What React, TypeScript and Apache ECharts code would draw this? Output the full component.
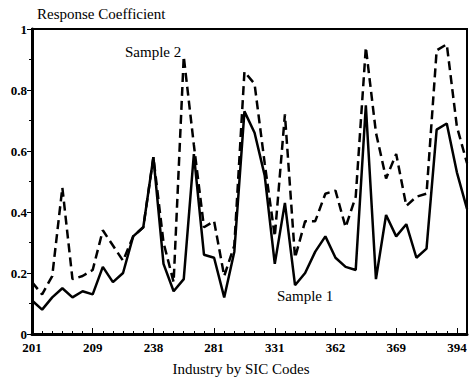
import React, { useEffect, useRef } from "react";
import * as echarts from "echarts";

const sicLabels = ["201", "209", "238", "281", "331", "362", "369", "394"];
const pointsPerLabel = 6;

const sample1 = [
  0.11, 0.08, 0.12, 0.15, 0.12, 0.14, 0.13, 0.22, 0.17, 0.2,
  0.32, 0.35, 0.58, 0.23, 0.14, 0.18, 0.59, 0.26, 0.25, 0.12,
  0.27, 0.73, 0.66, 0.52, 0.23, 0.43, 0.16, 0.2, 0.27, 0.32,
  0.25, 0.22, 0.21, 0.75, 0.18, 0.39, 0.32, 0.36, 0.25, 0.28,
  0.67, 0.69, 0.53, 0.41,
];

const sample2 = [
  0.17, 0.13, 0.19, 0.48, 0.18, 0.19, 0.21, 0.34, 0.29, 0.24,
  0.32, 0.35, 0.58, 0.3, 0.17, 0.91, 0.62, 0.35, 0.37, 0.19,
  0.29, 0.86, 0.82, 0.56, 0.32, 0.72, 0.25, 0.37, 0.37, 0.46,
  0.47, 0.35, 0.45, 0.94, 0.66, 0.51, 0.59, 0.42, 0.45, 0.46,
  0.93, 0.95, 0.68, 0.56,
];

const FONT = "'Liberation Serif', 'Times New Roman', serif";

export default function App() {
  const ref = useRef<HTMLDivElement>(null);
  useEffect(() => {
    if (!ref.current) return;
    const chart = echarts.init(ref.current, undefined, { renderer: "svg" });
    const n = sample1.length;
    chart.setOption({
      animation: false,
      backgroundColor: "#ffffff",
      grid: {
        left: 32,
        top: 29,
        right: 6,
        bottom: 47,
        show: true,
        borderColor: "#000",
        borderWidth: 2,
      },
      graphic: [
        {
          type: "text",
          x: 37,
          y: 14,
          style: { text: "Response Coefficient", font: `15px ${FONT}`, fill: "#000", verticalAlign: "middle" },
        },
        {
          type: "text",
          x: 125,
          y: 52,
          style: { text: "Sample 2", font: `15px ${FONT}`, fill: "#000", verticalAlign: "middle" },
        },
        {
          type: "text",
          x: 277,
          y: 296,
          style: { text: "Sample 1", font: `15px ${FONT}`, fill: "#000", verticalAlign: "middle" },
        },
        {
          type: "text",
          x: 241,
          y: 369,
          style: { text: "Industry by SIC Codes", font: `15px ${FONT}`, fill: "#000", align: "center", verticalAlign: "middle" },
        },
      ],
      xAxis: {
        type: "value",
        min: 0,
        max: n - 1,
        interval: pointsPerLabel,
        axisLine: { show: true, lineStyle: { color: "#000", width: 3 } },
        axisTick: { show: true, inside: true, length: 6, lineStyle: { color: "#000", width: 1 } },
        minorTick: { show: true, splitNumber: pointsPerLabel, length: 3, lineStyle: { color: "#000", width: 1 } },
        splitLine: { show: false },
        axisLabel: {
          color: "#000",
          fontFamily: FONT,
          fontWeight: "bold",
          fontSize: 13,
          lineHeight: 13,
          margin: 7,
          showMaxLabel: false,
          formatter: (v: number) => {
            const k = Math.round(v / pointsPerLabel);
            return sicLabels[k] ?? "";
          },
        },
      },
      yAxis: {
        type: "value",
        min: 0,
        max: 1,
        interval: 0.2,
        axisLine: { show: true, lineStyle: { color: "#000", width: 3 } },
        axisTick: { show: true, inside: false, length: 5, lineStyle: { color: "#000", width: 1 } },
        minorTick: { show: true, splitNumber: 2, length: 3, lineStyle: { color: "#000", width: 1 } },
        splitLine: { show: false },
        axisLabel: {
          color: "#000",
          fontFamily: FONT,
          fontWeight: "bold",
          fontSize: 13,
          lineHeight: 12,
          margin: 5,
        },
      },
      series: [
        {
          name: "Sample 2",
          type: "line",
          data: sample2.map((v, i) => [i, v]),
          showSymbol: false,
          symbol: "none",
          lineStyle: { color: "#000", width: 2.5, type: [9, 5] },
        },
        {
          name: "Sample 1",
          type: "line",
          data: sample1.map((v, i) => [i, v]),
          showSymbol: false,
          symbol: "none",
          lineStyle: { color: "#000", width: 2.5, type: "solid" },
        },
      ],
    });
    return () => chart.dispose();
  }, []);
  return (
    <div
      ref={ref}
      style={{ position: "absolute", left: 0, top: 0, width: 473, height: 381 }}
    />
  );
}
